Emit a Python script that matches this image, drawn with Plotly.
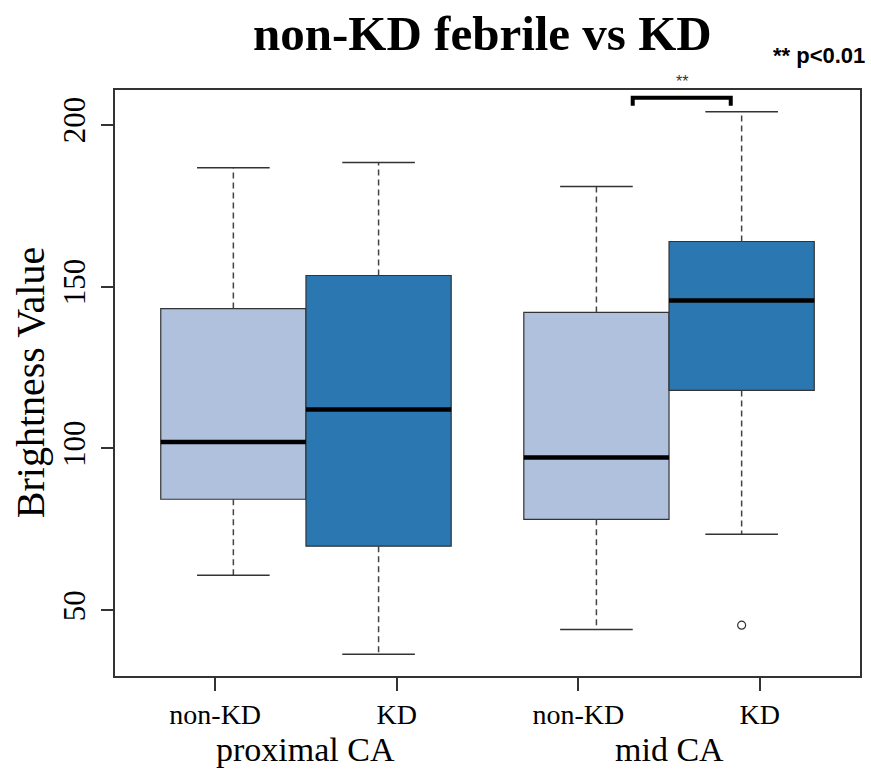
import plotly.graph_objects as go

# ---- data ----
groups = ["proximal CA", "mid CA"]
tick_labels = ["non-KD", "KD", "non-KD", "KD"]
tick_pos = [1, 2, 3, 4]
box_pos = [1.1, 1.9, 3.1, 3.9]
lower_whisker = [60.8, 36.4, 44.1, 73.5]
q1 = [84.3, 69.8, 78.1, 117.9]
median = [102.0, 112.0, 97.2, 145.7]
q3 = [143.2, 153.4, 142.0, 163.9]
upper_whisker = [186.7, 188.3, 180.9, 204.0]
outlier_x = [3.9]
outlier_y = [45.4]
box_colors = ["#AFC1DD", "#2A77B1", "#AFC1DD", "#2A77B1"]
sig_span = [3.3, 3.84]
sig_top = 208.3
sig_leg = 205.8

BOXW = 0.8
CAPW = 0.4
XR = [0.448, 4.552]
YR = [29.7, 210.7]

W, H = 871, 770
ML, MR, MT, MB = 115, 9, 90, 94
PW, PH = W - ML - MR, H - MT - MB


def px_x(p):
    return (p - ML) / PW


def px_y(p):
    return (H - MB - p) / PH


SERIF = "Liberation Serif, Times New Roman, serif"
SANS = "Liberation Sans, Arial, sans-serif"

fig = go.Figure()

# boxes
for i in range(4):
    fig.add_trace(go.Box(
        x=[box_pos[i]], q1=[q1[i]], median=[median[i]], q3=[q3[i]],
        lowerfence=[q1[i]], upperfence=[q3[i]],
        width=BOXW, whiskerwidth=0, fillcolor=box_colors[i],
        line=dict(color="#333333", width=1.2), boxpoints=False,
        showlegend=False, hoverinfo="skip",
    ))

# dashed whiskers
wx, wy = [], []
for i in range(4):
    wx += [box_pos[i], box_pos[i], None, box_pos[i], box_pos[i], None]
    wy += [q3[i], upper_whisker[i], None, q1[i], lower_whisker[i], None]
fig.add_trace(go.Scatter(x=wx, y=wy, mode="lines",
                         line=dict(color="#444444", width=1.5, dash="6px,4px"),
                         showlegend=False, hoverinfo="skip"))

# caps
cx, cy = [], []
for i in range(4):
    for v in (upper_whisker[i], lower_whisker[i]):
        cx += [box_pos[i] - CAPW / 2, box_pos[i] + CAPW / 2, None]
        cy += [v, v, None]
fig.add_trace(go.Scatter(x=cx, y=cy, mode="lines",
                         line=dict(color="#333333", width=1.5),
                         showlegend=False, hoverinfo="skip"))

# medians
mx, my = [], []
for i in range(4):
    mx += [box_pos[i] - BOXW / 2, box_pos[i] + BOXW / 2, None]
    my += [median[i], median[i], None]
fig.add_trace(go.Scatter(x=mx, y=my, mode="lines",
                         line=dict(color="black", width=4.5),
                         showlegend=False, hoverinfo="skip"))

# outlier
fig.add_trace(go.Scatter(x=outlier_x, y=outlier_y, mode="markers",
                         marker=dict(symbol="circle-open", size=8,
                                     color="#333333", line=dict(width=1.2)),
                         showlegend=False, hoverinfo="skip"))

# significance bracket
fig.add_trace(go.Scatter(
    x=[sig_span[0], sig_span[0], sig_span[1], sig_span[1]],
    y=[sig_leg, sig_top, sig_top, sig_leg], mode="lines",
    line=dict(color="black", width=4), showlegend=False, hoverinfo="skip",
    cliponaxis=False))

annotations = [
    dict(text="**", x=sum(sig_span) / 2, y=px_y(81), xref="x", yref="paper",
         showarrow=False, yanchor="middle", font=dict(family=SANS, size=16, color="#333333")),
    dict(text="<b>non-KD febrile vs KD</b>", x=px_x(483.5), y=px_y(33), xref="paper", yref="paper",
         showarrow=False, xanchor="center", yanchor="middle", font=dict(family=SERIF, size=49, color="black")),
    dict(text="<b>** p<0.01</b>", x=px_x(821), y=px_y(55), xref="paper", yref="paper",
         showarrow=False, xanchor="center", yanchor="middle", font=dict(family=SANS, size=22, color="black")),
    dict(text="Brightness Value", x=px_x(30), y=0.5, xref="paper", yref="paper", textangle=-90,
         showarrow=False, xanchor="center", yanchor="middle", font=dict(family=SERIF, size=40, color="black")),
]
for g, gx in zip(groups, [1.5, 3.5]):
    annotations.append(dict(text=g, x=gx, y=px_y(750), xref="x", yref="paper",
                            showarrow=False, xanchor="center", yanchor="middle",
                            font=dict(family=SERIF, size=34, color="black")))

fig.update_layout(
    width=W, height=H, margin=dict(l=ML, r=MR, t=MT, b=MB),
    paper_bgcolor="white", plot_bgcolor="white", showlegend=False,
    boxmode="overlay", annotations=annotations,
    xaxis=dict(range=XR, tickvals=tick_pos, ticktext=tick_labels, ticks="outside",
               ticklen=13, tickwidth=1.5, tickcolor="#333333", showline=True, mirror=True,
               linecolor="#333333", linewidth=1.5, showgrid=False, zeroline=False,
               tickfont=dict(family=SERIF, size=28, color="black")),
    yaxis=dict(range=YR, tickvals=[50, 100, 150, 200], ticks="outside", ticklen=12,
               tickwidth=1.5, tickcolor="#333333", tickangle=-90, showline=True, mirror=True,
               linecolor="#333333", linewidth=1.5, showgrid=False, zeroline=False,
               ticklabelstandoff=4,
               tickfont=dict(family=SERIF, size=31, color="black")),
)

fig.write_html("out.html")
